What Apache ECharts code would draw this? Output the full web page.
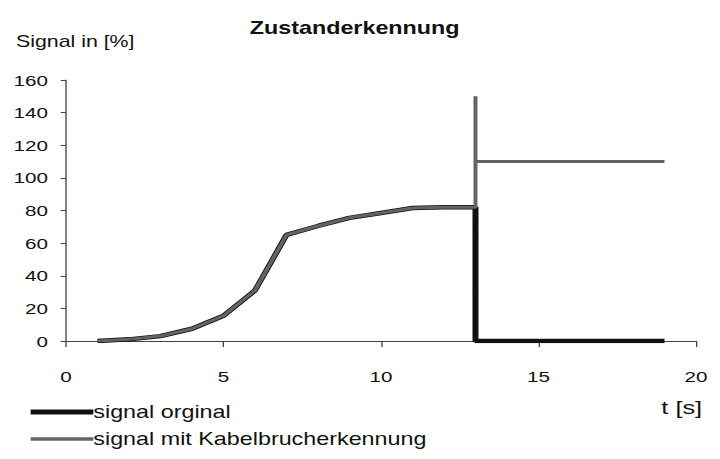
<!DOCTYPE html>
<html>
<head>
<meta charset="utf-8">
<script src="https://cdn.jsdelivr.net/npm/echarts@6/dist/echarts.min.js"></script>
<style>
html,body{margin:0;padding:0;background:#fff;overflow:hidden}
#wrap{width:720px;height:459px;overflow:hidden}
/* the chart is laid out narrower and widened to the full page width */
#c{width:540px;height:459px;transform:scaleX(1.3333);transform-origin:0 0}
</style>
</head>
<body>
<div id="wrap"><div id="c"></div></div>
<script>
// time in seconds, signal in percent
const tOriginal = [1, 2, 3, 4, 5, 6, 7, 8, 9, 10, 11, 12, 13, 13, 19];
const vOriginal = [0, 1, 3, 7.5, 15.5, 31, 65, 70.5, 75.5, 78.5, 81.5, 82, 82, 0, 0];
const tBreak = [1, 2, 3, 4, 5, 6, 7, 8, 9, 10, 11, 12, 13, 13, 13, 19];
const vBreak = [0, 1, 3, 7.5, 15.5, 31, 65, 70.5, 75.5, 78.5, 81.5, 82, 82, 150, 110, 110];
const seriesNames = ['signal orginal', 'signal mit Kabelbrucherkennung'];
const xTicks = [0, 5, 10, 15, 20];
const yTicks = [0, 20, 40, 60, 80, 100, 120, 140, 160];

const pairs = (xs, ys) => xs.map((x, i) => [x, ys[i]]);
const font = 'Liberation Sans, Arial, sans-serif';
const black = '#111111';
const gray = '#646464';

const legendBase = {
  orient: 'vertical', left: 18, icon: 'rect', itemWidth: 47,
  textStyle: { fontFamily: font, fontSize: 17.5, color: '#111', padding: [0, 0, 0, -5] }
};

const chart = echarts.init(document.getElementById('c'), null, { renderer: 'svg' });
chart.setOption({
  animation: false,
  backgroundColor: '#fff',
  title: {
    text: 'Zustanderkennung',
    left: 261, top: 14, textAlign: 'center',
    textStyle: { fontFamily: font, fontSize: 17.5, fontWeight: 'bold', color: '#111' }
  },
  graphic: [
    { type: 'text', left: 12, top: 33, style: { text: 'Signal in [%]', font: '16px ' + font, fill: '#111' } },
    { type: 'text', left: 496, top: 398, style: { text: 't [s]', font: '19px ' + font, fill: '#111' } }
  ],
  legend: [
    Object.assign({}, legendBase, { top: 398, itemHeight: 5, data: [seriesNames[0]] }),
    Object.assign({}, legendBase, { top: 425, itemHeight: 3.5, data: [seriesNames[1]] })
  ],
  grid: { left: 49.5, right: 18, top: 80, bottom: 118, outerBoundsMode: 'none', containLabel: false },
  xAxis: {
    type: 'value', min: xTicks[0], max: xTicks[xTicks.length - 1], interval: 5,
    axisLine: { lineStyle: { color: '#444', width: 1 } },
    axisTick: { show: true, length: 6, lineStyle: { color: '#444' } },
    axisLabel: { fontFamily: font, fontSize: 15.5, color: '#111', margin: 27 },
    splitLine: { show: false }
  },
  yAxis: {
    type: 'value', min: yTicks[0], max: yTicks[yTicks.length - 1], interval: 20,
    axisLine: { show: true, lineStyle: { color: '#444', width: 1 } },
    axisTick: { show: true, length: 4, lineStyle: { color: '#444' } },
    axisLabel: { fontFamily: font, fontSize: 15.5, color: '#111', margin: 13.5 },
    splitLine: { show: false }
  },
  series: [
    {
      name: seriesNames[0], type: 'line', symbol: 'none',
      data: pairs(tOriginal, vOriginal),
      lineStyle: { color: black, width: 4.5 },
      itemStyle: { color: black }
    },
    {
      name: seriesNames[1], type: 'line', symbol: 'none',
      data: pairs(tBreak, vBreak),
      lineStyle: { color: gray, width: 3 },
      itemStyle: { color: gray }
    }
  ]
});
</script>
</body>
</html>
